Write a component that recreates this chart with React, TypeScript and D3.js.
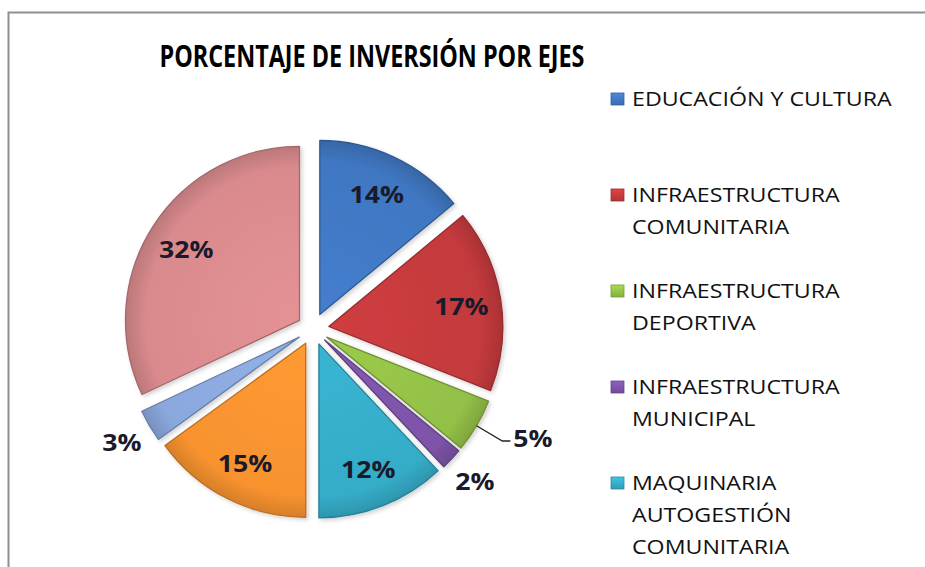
import { pie, arc, color } from "d3";
import type { PieArcDatum } from "d3";

// Datos
const categories = [
  "EDUCACIÓN Y CULTURA",
  "INFRAESTRUCTURA|COMUNITARIA",
  "INFRAESTRUCTURA|DEPORTIVA",
  "INFRAESTRUCTURA|MUNICIPAL",
  "MAQUINARIA|AUTOGESTIÓN|COMUNITARIA",
  "",
  "",
  "",
];
const values = [14, 17, 5, 2, 12, 15, 3, 32];
const sliceColors = ["#4077c2", "#c43a3d", "#93c047", "#7d54a8", "#35acc8", "#f7922f", "#8aa8dc", "#d98a8d"];
// dónde va cada etiqueta: dentro, fuera o con guía
const labelPlacement = ["in", "in", "leader", "out", "in", "in", "out", "in"];

const title = "PORCENTAJE DE INVERSIÓN POR EJES";

const W = 925;
const H = 567;
const cx = 313;
const cy = 329;
const R = 174;
const explode = 16;
const stretch = 1.16; // el original está estirado en horizontal

type Slice = { name: string; value: number; color: string; place: string };

export default function App() {
  const data: Slice[] = values.map((v, i) => ({
    name: categories[i],
    value: v,
    color: sliceColors[i],
    place: labelPlacement[i],
  }));

  const arcs = pie<Slice>().sort(null).value((d) => d.value)(data);
  const arcGen = arc<PieArcDatum<Slice>>().innerRadius(0).outerRadius(R);

  const polar = (angle: number, radius: number): [number, number] => [
    Math.sin(angle) * radius,
    -Math.cos(angle) * radius,
  ];

  const lineH = 32;
  const slot = 3 * lineH;

  const labelStyle = {
    fontFamily: "'Open Sans', sans-serif",
    fontWeight: 700,
    fontSize: 23,
    fill: "#1a1a2b",
  };

  return (
    <div style={{ position: "absolute", left: 0, top: 0 }}>
      <svg width={W} height={H} style={{ display: "block", background: "#fff" }}>
        <defs>
          <filter id="sh" x="-20%" y="-20%" width="140%" height="140%">
            <feDropShadow dx="2" dy="2" stdDeviation="2" floodColor="#000" floodOpacity="0.18" />
          </filter>
          {arcs.map((a, i) => (
            <radialGradient key={i} id={`g${i}`} cx={0} cy={0} r={R} gradientUnits="userSpaceOnUse">
              <stop offset="0%" stopColor={color(a.data.color)!.brighter(0.15).formatHex()} />
              <stop offset="88%" stopColor={a.data.color} />
              <stop offset="100%" stopColor={color(a.data.color)!.darker(0.4).formatHex()} />
            </radialGradient>
          ))}
          {arcs.map((a, i) => (
            <linearGradient key={i} id={`lg${i}`} x1="0" y1="0" x2="0" y2="1">
              <stop offset="0%" stopColor={color(a.data.color)!.brighter(0.4).formatHex()} />
              <stop offset="100%" stopColor={color(a.data.color)!.darker(0.3).formatHex()} />
            </linearGradient>
          ))}
        </defs>

        {/* marco */}
        <rect x={8.5} y={12.5} width={W + 20} height={H + 20} fill="none" stroke="#8f8f8f" strokeWidth={2} />

        {/* título */}
        <text
          x={372}
          y={67}
          textAnchor="middle"
          textLength={425}
          lengthAdjust="spacingAndGlyphs"
          fontFamily="'Open Sans', sans-serif"
          fontWeight={700}
          fontSize={31}
          fill="#000"
        >
          {title}
        </text>

        {/* sectores */}
        <g transform={`translate(${cx},${cy})`}>
          {arcs.map((a, i) => {
            const mid = (a.startAngle + a.endAngle) / 2;
            const [ox, oy] = polar(mid, explode);
            const stroke = color(a.data.color)!.darker(0.8).formatHex();
            return (
              <g key={i} transform={`translate(${ox},${oy})`} filter="url(#sh)">
                <path d={arcGen(a) ?? ""} fill={`url(#g${i})`} stroke={stroke} strokeWidth={1.3} strokeLinejoin="round" />
              </g>
            );
          })}

          {/* etiquetas */}
          {arcs.map((a, i) => {
            const mid = (a.startAngle + a.endAngle) / 2;
            const label = `${a.data.value}%`;
            if (a.data.place === "in" || a.data.place === "out") {
              const rr = a.data.place === "in" ? explode + R * 0.77 : explode + R + 32;
              const [x, y] = polar(mid, rr);
              return (
                <g key={i} transform={`translate(${x},${y}) scale(${stretch},1)`}>
                  <text textAnchor="middle" dominantBaseline="central" {...labelStyle}>
                    {label}
                  </text>
                </g>
              );
            }
            const [x0, y0] = polar(mid, explode + R);
            const [x1, y1] = polar(mid, explode + R + 30);
            const x2 = x1 + 8;
            return (
              <g key={i}>
                <polyline points={`${x0},${y0} ${x1},${y1} ${x2},${y1}`} fill="none" stroke="#222" strokeWidth={1.3} />
                <g transform={`translate(${x2 + 3},${y1 - 3}) scale(${stretch},1)`}>
                  <text textAnchor="start" dominantBaseline="central" {...labelStyle}>
                    {label}
                  </text>
                </g>
              </g>
            );
          })}
        </g>

        {/* leyenda */}
        <g transform="translate(611,106)">
          {data.map((d, i) =>
            d.name ? (
              <g key={i} transform={`translate(0,${i * slot})`}>
                <rect x={0} y={-13} width={13} height={12} fill={`url(#lg${i})`} stroke={color(d.color)!.darker(0.6).formatHex()} strokeWidth={0.8} />
                {d.name.split("|").map((line, j) => (
                  <g key={j} transform={`translate(21,${j * lineH}) scale(${stretch},1)`}>
                    <text fontFamily="'Open Sans', sans-serif" fontSize={20} fontWeight={500} fill="#111">
                      {line}
                    </text>
                  </g>
                ))}
              </g>
            ) : null
          )}
        </g>
      </svg>
    </div>
  );
}
